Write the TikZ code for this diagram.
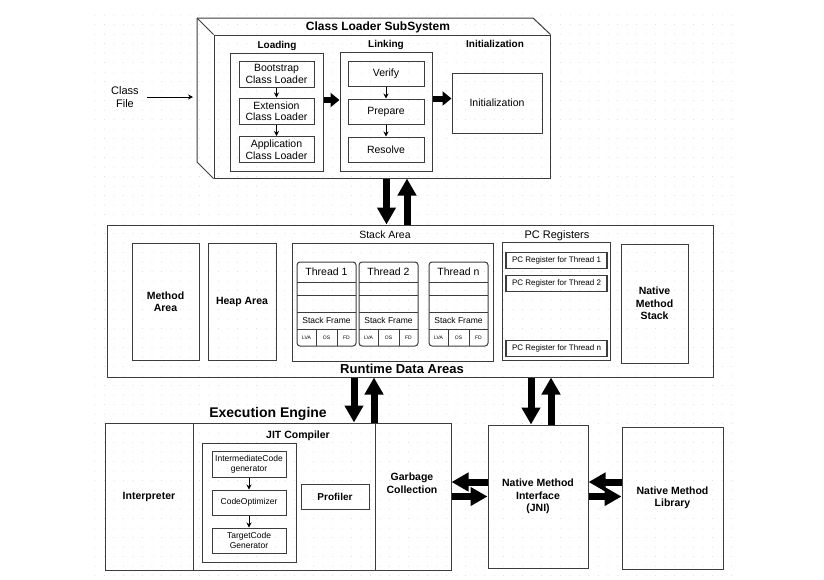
\documentclass[tikz,border=0pt]{standalone}
\usepackage{fontspec}
\setmainfont{Liberation Sans}
\usetikzlibrary{arrows.meta,calc}
\definecolor{linec}{HTML}{3C3C3C}
\definecolor{dotc}{HTML}{DADADA}
\begin{document}
\begin{tikzpicture}[x=1pt,y=-1pt,
    box/.style={draw=linec,line width=1pt,inner sep=0pt,align=center},
    wh/.style 2 args={minimum width=#1pt,minimum height=#2pt},
    tx/.style={font=\fontsize{10.5}{11.5}\selectfont,align=center},
    bx/.style={font=\bfseries\fontsize{10.5}{12.5}\selectfont,align=center},
    hd/.style={font=\bfseries\fontsize{10}{12}\selectfont},
    sm/.style={font=\fontsize{8.5}{10}\selectfont,align=center},
    xs/.style={font=\fontsize{5}{6}\selectfont,inner sep=0pt},
    fat/.style={line width=7pt,-{Triangle[length=17pt,width=18pt]}},
    fatsm/.style={line width=6pt,-{Triangle[length=9pt,width=14pt]}},
    tarrow/.style={draw=black,line width=0.8pt,-{Stealth[length=5pt,width=5pt]}}]
  \useasboundingbox (0,0) rectangle (824,579);
  % canvas dots
  \foreach \j in {0,...,59}
    \fill[dotc] \foreach \i in {0,...,67} {(95+9.5*\i,15+9.5*\j) circle (0.5)};

  % class loader subsystem
  \coordinate (bk) at (197,18);
  \node[box,wh={336}{143}] (cls) at (382,106.5) {};
  \draw[linec,line width=1pt] (bk) -- (533,18) -- (cls.north east);
  \draw[linec,line width=1pt] (bk) -- (cls.north west);
  \draw[linec,line width=1pt] (bk) -- (197,162) -- (cls.south west);
  \node[font=\bfseries\fontsize{12}{14}\selectfont] (ttl) at (378,27) {Class Loader SubSystem};
  \node[tx,font=\fontsize{11}{13}\selectfont] (cfile) at (125,97) {Class\\File};
  \draw[tarrow,shorten <=5pt,shorten >=4pt] (cfile.east) -- (cfile.east -| bk);

  \node[hd] (lload) at (277,46) {Loading};
  \node[box,wh={93}{118}] (load) at (276.5,112) {};
  \node[box,tx,wh={75}{26}] (boot) at (276.5,74) {Bootstrap\\Class Loader};
  \node[box,tx,wh={75}{26}] (ext) at (276.5,111) {Extension\\Class Loader};
  \node[box,tx,wh={75}{26}] (app) at (276.5,149.5) {Application\\Class Loader};
  \draw[tarrow] (boot) -- (ext);
  \draw[tarrow] (ext) -- (app);

  \node[hd] (llink) at (386,45) {Linking};
  \node[box,wh={92}{119}] (link) at (386,111.5) {};
  \node[box,tx,wh={76}{25}] (verify) at (386,73.5) {Verify};
  \node[box,tx,wh={76}{25}] (prep) at (386,111.5) {Prepare};
  \node[box,tx,wh={76}{25}] (resolve) at (386,149.5) {Resolve};
  \draw[tarrow] (verify) -- (prep);
  \draw[tarrow] (prep) -- (resolve);

  \node[hd] (linit) at (495,44) {Initialization};
  \node[box,tx,wh={90}{60}] (init) at (497,103) {Initialization};
  \draw[fatsm] ([yshift=12pt]load.east) -- ([yshift=12pt]load.east -| link.west);
  \draw[fatsm] ([yshift=13pt]link.east) -- ([yshift=13pt]link.east -| init.west);

  % runtime data areas
  \node[box,wh={606}{152}] (rda) at (410,301) {};
  \node[box,bx,wh={67}{117}] (method) at (165.5,301.5) {Method\\Area};
  \node[box,bx,wh={68}{117}] (heap) at (242,301.5) {Heap Area};
  \node[tx] (lstack) at (385,235) {Stack Area};
  \node[box,wh={201}{118}] (stack) at (392.5,302) {};
  \foreach \xx/\lab/\nm in {297/1/a,359/2/b,429/n/c} {
    \draw[linec,line width=1pt,rounded corners=3pt] (\xx,262) rectangle +(59,84);
    \foreach \yy in {282,295,312,329} \draw[linec,line width=1pt] (\xx,\yy) -- +(59,0);
    \draw[linec,line width=1pt] (\xx+19,329) -- +(0,17) (\xx+40,329) -- +(0,17);
    \node[tx] (thr\nm) at (\xx+29.5,272) {Thread \lab};
    \node[sm] (sf\nm) at (\xx+29.5,320.5) {Stack Frame};
    \node[xs] (lva\nm) at (\xx+9.5,337.5) {LVA};
    \node[xs] (os\nm) at (\xx+29.5,337.5) {OS};
    \node[xs] (fd\nm) at (\xx+49.5,337.5) {FD};
  }
  \node[tx,font=\fontsize{11}{13}\selectfont] (lpc) at (557,236) {PC Registers};
  \node[box,wh={108}{118}] (pcr) at (556,301) {};
  \node[box,line width=1.3pt,wh={101}{16},font=\fontsize{8}{9}\selectfont] (pc1) at (556.5,260.5) {PC Register for Thread 1};
  \node[box,line width=1.3pt,wh={101}{16},font=\fontsize{8}{9}\selectfont] (pc2) at (556.5,283.5) {PC Register for Thread 2};
  \node[box,line width=1.3pt,wh={101}{16},font=\fontsize{8}{9}\selectfont] (pcn) at (556.5,348.5) {PC Register for Thread n};
  \node[box,bx,wh={67}{119}] (nms) at (654.5,303.5) {Native\\Method\\Stack};
  \node[font=\bfseries\fontsize{13}{15}\selectfont] (lrda) at (402,369) {Runtime Data Areas};

  % execution engine
  \node[font=\bfseries\fontsize{14}{16}\selectfont] (lexe) at (268,414) {Execution Engine};
  \node[box,bx,wh={88}{147}] (interp) at (149,496.5) {Interpreter};
  \node[box,wh={182}{147}] (jit) at (284,496.5) {};
  \node[bx] (ljit) at (298,436) {JIT Compiler};
  \node[box,wh={94}{119}] (jin) at (249,502.5) {};
  \node[box,sm,wh={74}{26}] (icg) at (249,464) {IntermediateCode\\generator};
  \node[box,sm,wh={74}{25}] (opt) at (249,502.5) {CodeOptimizer};
  \node[box,sm,wh={74}{25}] (tcg) at (249,540.5) {TargetCode\\Generator};
  \draw[tarrow] (icg) -- (opt);
  \draw[tarrow] (opt) -- (tcg);
  \node[box,hd,wh={68}{25}] (prof) at (335,496.5) {Profiler};
  \node[box,wh={76}{147}] (gc) at (413,496.5) {};
  \node[bx] (lgc) at (412,483) {Garbage\\Collection};
  \node[box,bx,wh={100}{143}] (jni) at (538,496.5) {Native Method\\Interface\\(JNI)};
  \node[box,bx,wh={101}{142}] (nml) at (672.5,498) {Native Method\\Library};

  % data flow
  \draw[fat] ([xshift=4.5pt]cls.south) -- ([xshift=4.5pt]cls.south |- rda.north);
  \draw[fat] ([xshift=25pt]cls.south |- rda.north) -- ([xshift=25pt]cls.south);
  \draw[fat] ([xshift=-56pt]rda.south) -- ([xshift=-56pt]rda.south |- jit.north);
  \draw[fat] ([xshift=-36pt]rda.south |- jit.north) -- ([xshift=-36pt]rda.south);
  \draw[fat] ([xshift=-7pt]jni.north |- rda.south) -- ([xshift=-7pt]jni.north);
  \draw[fat] ([xshift=13pt]jni.north) -- ([xshift=13pt]jni.north |- rda.south);
  \draw[fat] ([yshift=14.5pt]jni.west) -- ([yshift=14.5pt]jni.west -| gc.east);
  \draw[fat] (jni.west -| gc.east) -- (jni.west);
  \draw[fat] ([yshift=14.5pt]jni.east -| nml.west) -- ([yshift=14.5pt]jni.east);
  \draw[fat] (jni.east) -- (jni.east -| nml.west);
\end{tikzpicture}
\end{document}
